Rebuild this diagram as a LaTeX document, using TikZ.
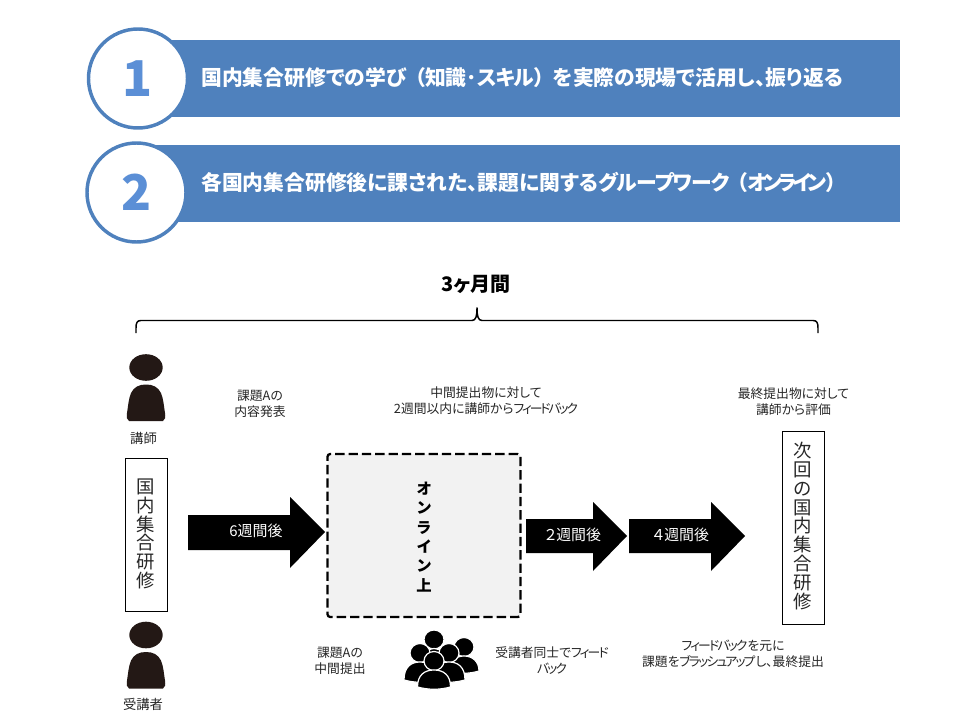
\documentclass[tikz,border=0pt]{standalone}
\usepackage{fontspec}
\setmainfont[RawFeature={+palt}]{Noto Sans CJK JP}
\definecolor{band}{HTML}{4F81BD}
\definecolor{numblue}{HTML}{5B8FD6}
\definecolor{ink}{HTML}{231815}
\newlength{\pxu}\setlength{\pxu}{0.75pt}
\newcommand{\kns}[2][-14]{{\addfontfeature{LetterSpace=#1}#2}}
\tikzset{
  bandbar/.style={fill=band,draw=none},
  numring/.style={circle,draw=band,line width=2.6pt,fill=white,inner sep=0pt,minimum size=99\pxu,font=\fontsize{37}{37}\selectfont\bfseries,text=numblue},
  bandtext/.style={anchor=west,text=white,inner sep=0pt,font=\fontsize{15.6}{18}\selectfont\bfseries},
  smalltext/.style={align=center,inner sep=0pt,font=\fontsize{9.6}{12}\selectfont,text=black!85},
  roletext/.style={inner sep=0pt,font=\fontsize{10}{12}\selectfont,text=black!85},
  bigarrow/.style={fill=black,draw=none},
  arrowtext/.style={text=white,inner sep=0pt,font=\fontsize{11.2}{13}\selectfont},
  vbox/.style={draw=black,line width=0.7pt,inner sep=0pt,minimum width=42\pxu},
  vtext/.style={inner sep=0pt,align=center,text=black!85,font=\fontsize{13.8}{14.1}\selectfont},
  groupfig/.style={fill=black,draw=white,line width=0.9pt},
}
\newcommand{\personshape}[2]{%
  \begin{scope}[shift={(#1,#2)}]
    \fill[ink] (0,-19.5) ellipse (16.7 and 13.3);
    \fill[ink] (-17,34) .. controls (-19.5,33) and (-19.5,30) .. (-19,26)
      .. controls (-18,20) and (-17.5,12) .. (-15,6)
      .. controls (-12,0) and (-7,-2.5) .. (0,-2.5)
      .. controls (7,-2.5) and (12,0) .. (15,6)
      .. controls (17.5,12) and (18,20) .. (19,26)
      .. controls (19.5,30) and (19.5,33) .. (17,34) -- cycle;
  \end{scope}}
\newcommand{\groupmember}[5]{% head x, head y, head r, half body width, body bottom
  \path[groupfig] (#1,#2) ellipse (#3 and #3-0.5);
  \path[groupfig] (#1-#4,#5) .. controls (#1-#4,#2+14) and (#1-#4+7,#2+9) .. (#1,#2+9)
     .. controls (#1+#4-7,#2+9) and (#1+#4,#2+14) .. (#1+#4,#5) .. controls (#1+5,#5+3) and (#1-5,#5+3) .. (#1-#4,#5) -- cycle;}
\begin{document}
\begin{tikzpicture}[x=0.75pt,y=-0.75pt]
\useasboundingbox (0,0) rectangle (960,720);
% bands
\fill[bandbar] (150,40) rectangle (900,117);
\fill[bandbar] (150,145) rectangle (900,222);
\node[numring] (one) at (138,78.5) {1};
\node[numring] (two) at (136.5,192.5) {2};
\node[bandtext] (t1) at (201,78) {国内集合研修での学び\kern0.4em（知識･\kns[-5]{スキル}）\kern0.42em を実際の現場で活用し、振り返る};
\node[bandtext] (t2) at (201,182) {各国内集合研修後に課された、課題に関する\kns[-4]{グループワーク}\kern0.37em（\kns[-20]{オンライン}）};
% brace
\node[inner sep=0pt,font=\fontsize{15}{17}\selectfont\bfseries] (months) at (476,284) {3ヶ月間};
\draw[black,line width=1.1pt] (136,333) -- (136,328) .. controls (136,323) and (137,320.5) .. (141,320.5)
  -- (472,320.5) .. controls (476,320.5) and (477,316) .. (477,307.5)
  .. controls (477,316) and (478,320.5) .. (482,320.5) -- (813,320.5)
  .. controls (817,320.5) and (818,323) .. (818,328) -- (818,333);
% people
\personshape{146}{387}
\node[roletext] (lect) at (143.5,438) {講師};
\personshape{146}{654.5}
\node[roletext] (stud) at (143,704) {受講者};
% left box
\node[vbox,minimum height=153\pxu] (kbox) at (146.5,535) {};
\node[vtext] (ktext) at (146,534) {国\\内\\集\\合\\研\\修};
% labels top
\node[smalltext] (a1) at (260,404) {課題Aの\\内容発表};
\node[smalltext] (a2) at (486,401) {中間提出物に対して\\2週間以内に講師から\kns[-16]{フィードバック}};
\node[smalltext] (a3) at (793.5,401.5) {最終提出物に対して\\講師から評価};
% online box
\node[draw=black,line width=1.7pt,dash pattern=on 7pt off 3pt,rounded corners=2pt,fill=black!5,minimum width=193\pxu,minimum height=163\pxu,inner sep=0pt] (online) at (424,535.5) {};
\node[inner sep=0pt,align=center,font=\fontsize{11.5}{14.5}\selectfont\bfseries] (onlinet) at (424,537) {オ\\ン\\ラ\\イ\\ン\\上};
% arrows
\fill[bigarrow] (188,515) -- (290,515) -- (290,497) -- (325,532) -- (290,568) -- (290,550) -- (188,550) -- cycle;
\node[arrowtext] (w1) at (256,531) {6週間後};
\fill[bigarrow] (526,519) -- (593,519) -- (593,502) -- (627,536) -- (593,571) -- (593,553) -- (526,553) -- cycle;
\node[arrowtext] (w2) at (573,535) {２週間後};
\fill[bigarrow] (629,519) -- (711,519) -- (711,502) -- (745,536) -- (711,571) -- (711,553) -- (629,553) -- cycle;
\node[arrowtext] (w3) at (681,535) {４週間後};
% right box
\node[vbox,minimum height=193\pxu] (nbox) at (803,527.5) {};
\node[vtext] (ntext) at (803,526) {次\\回\\の\\国\\内\\集\\合\\研\\修};
% lower labels
\node[smalltext] (b1) at (340,661) {課題Aの\\中間提出};
\node[smalltext] (b2) at (552,661) {受講者同士で\kns{フィード}\\\kns{バック}};
\node[smalltext] (b3) at (733,653.5) {\kns{フィードバック}を元に\\課題を\kns{ブラッシュアップ}し、最終提出};
% group icon
\groupmember{464}{647}{10}{15}{671}
\groupmember{434}{639.5}{10}{14}{668}
\groupmember{420}{653}{10}{16}{680}
\groupmember{449}{653}{10}{16}{680}
\groupmember{434}{661}{10}{16.5}{687}
\end{tikzpicture}
\end{document}
